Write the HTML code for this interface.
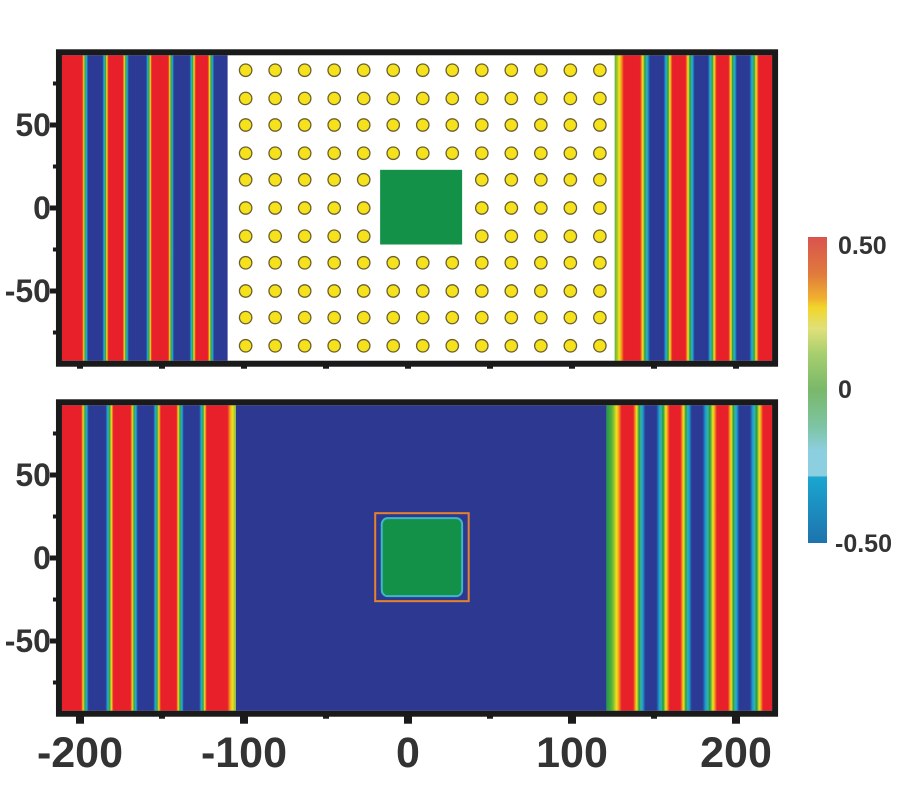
<!DOCTYPE html>
<html><head><meta charset="utf-8">
<style>
html,body{margin:0;padding:0;background:#fff;}
svg text{font-family:"Liberation Sans",Arial,sans-serif;font-weight:bold;fill:#333;}
</style></head>
<body>
<svg id="chart" width="900" height="800" viewBox="0 0 900 800" xmlns="http://www.w3.org/2000/svg">
<defs id="defs"></defs>
<g id="plot"></g>
</svg>
<script>
// ---- data (x/y in physical units) ----
const xTicks = [-200, -100, 0, 100, 200];
const xMinorTicks = [-150, -50, 50, 150];
const yTicks = [50, 0, -50];
const yMinorTicks = [75, 25, -25, -75];
const topLeftRed = [-204, -179, -151, -125];
const topLeftBlue = [-190, -165, -138, -115];
const topRightRed = [137, 165, 192, 218];
const topRightBlue = [152, 179, 204];
const botLeftRed = [-204, -174, -146, -118];
const botLeftBlue = [-190, -160, -132];
const botRightRed = [134, 163, 192, 220];
const botRightBlue = [148, 176, 205];
const dotXs = [-99, -81, -63, -45, -27, -9, 9, 27, 45, 63, 81, 99, 117];
const dotYs = [83, 66, 50, 33, 17, 0, -17, -33, -50, -66, -83];
const cbTicks = ["0.50", "0", "-0.50"];
const cbValues = [0.5, 0, -0.5];

// ---- axes ----
const X0 = 408, SX = 1.64;
const sx = v => X0 + v * SX;
const SY = 1.66;
const syTop = v => 208 - v * SY;
const syBot = v => 558 - v * SY;
const XMIN = -211, XMAX = 222, YMAX = 92;

const NS = "http://www.w3.org/2000/svg";
const plot = document.getElementById('plot');
const defs = document.getElementById('defs');
function mk(tag, attrs, parent) {
  const e = document.createElementNS(NS, tag);
  for (const k in attrs) e.setAttribute(k, attrs[k]);
  (parent || plot).appendChild(e);
  return e;
}
// colormap
const cmap = [[-1,[43,58,148]],[-0.6,[26,160,214]],[-0.25,[60,180,150]],[0,[23,154,74]],[0.45,[242,228,26]],[0.7,[243,150,30]],[1,[232,32,42]]];
function col(v) {
  v = Math.max(-1, Math.min(1, v));
  for (let i = 0; i < cmap.length - 1; i++) {
    const a = cmap[i], b = cmap[i + 1];
    if (v <= b[0]) {
      const t = (v - a[0]) / (b[0] - a[0]);
      const c = a[1].map((x, j) => Math.round(x + (b[1][j] - x) * t));
      return `rgb(${c[0]},${c[1]},${c[2]})`;
    }
  }
  return 'rgb(232,32,42)';
}
let gid = 0;
function stripeField(x0, x1, reds, blues, ymap, name, width, gain) {
  const id = 'g' + (gid++);
  const lg = mk('linearGradient', {id: id, x1: '0', x2: '1', y1: '0', y2: '0'}, defs);
  const N = 240;
  for (let i = 0; i <= N; i++) {
    const x = x0 + (x1 - x0) * i / N;
    let v = 0;
    reds.forEach(c => v += Math.exp(-Math.pow((x - c) / width, 2)));
    blues.forEach(c => v -= Math.exp(-Math.pow((x - c) / width, 2)));
    mk('stop', {offset: (i / N).toFixed(4), 'stop-color': col(v * gain)}, lg);
  }
  const r = mk('rect', {x: sx(x0), y: ymap(YMAX), width: sx(x1) - sx(x0), height: ymap(-YMAX) - ymap(YMAX), fill: `url(#${id})`});
  
  
}

function panel(ymap, tag) {
  const bg = mk('rect', {x: sx(XMIN), y: ymap(YMAX), width: sx(XMAX) - sx(XMIN), height: ymap(-YMAX) - ymap(YMAX), fill: '#fff'});
  
  
}

// ---- top panel ----
panel(syTop, 'top');
stripeField(XMIN, -110, topLeftRed, topLeftBlue, syTop, 'top-left-wave-field', 9, 3.2);
stripeField(126, XMAX, topRightRed, topRightBlue, syTop, 'top-right-wave-field', 7, 1.8);
dotXs.forEach(x => dotYs.forEach(y => {
  const d = mk('circle', {cx: sx(x), cy: syTop(y), r: 6.2, fill: '#f6e21c', stroke: '#6b6030', 'stroke-width': 1.3});
  
  
}));
const gsq = mk('rect', {x: sx(-17), y: syTop(23), width: sx(33) - sx(-17), height: syTop(-22) - syTop(23), fill: '#149148'});



// ---- bottom panel ----
panel(syBot, 'bottom');
const bb = mk('rect', {x: sx(-105), y: syBot(YMAX), width: sx(121) - sx(-105), height: syBot(-YMAX) - syBot(YMAX), fill: '#2d3891'});


stripeField(XMIN, -105, botLeftRed, botLeftBlue, syBot, 'bottom-left-wave-field', 8.5, 2.4);
stripeField(121, XMAX, botRightRed, botRightBlue, syBot, 'bottom-right-wave-field', 6.5, 1.4);
const ob = mk('rect', {x: sx(-20), y: syBot(27), width: sx(37) - sx(-20), height: syBot(-26) - syBot(27), fill: 'none', stroke: '#e6822e', 'stroke-width': 2});


const ig = mk('rect', {x: sx(-16), y: syBot(24), width: sx(33) - sx(-16), height: syBot(-23) - syBot(24), rx: 6, fill: '#149148', stroke: '#3fb6c8', 'stroke-width': 2});



// frames & ticks
[[syTop, 'top'], [syBot, 'bottom']].forEach(([ym, tag]) => {
  const f = mk('rect', {x: sx(XMIN) - 3, y: ym(YMAX) - 3, width: sx(XMAX) - sx(XMIN) + 6, height: ym(-YMAX) - ym(YMAX) + 6, fill: 'none', stroke: '#1a1a1a', 'stroke-width': 6});
  
  
  yTicks.forEach(v => {
    const t = mk('rect', {x: sx(XMIN) - 12, y: ym(v) - 2.5, width: 8, height: 5, fill: '#1a1a1a'});
    
    
    const l = mk('text', {x: sx(XMIN) - 11, y: ym(v) + 11, 'text-anchor': 'end', 'font-size': 32});
    l.textContent = v;
    
    
  });
  yMinorTicks.forEach(v => {
    const t = mk('rect', {x: sx(XMIN) - 9, y: ym(v) - 2, width: 4, height: 4, fill: '#1a1a1a'});
    
    
  });
  xTicks.concat(xMinorTicks).forEach(v => {
    const major = xTicks.includes(v) && tag === 'bottom';
    const t = mk('rect', {x: sx(v) - (major ? 4 : 3), y: ym(-YMAX) + 5, width: major ? 8 : 6, height: major ? 8 : 3, fill: '#1a1a1a'});
    
    
  });
});
xTicks.forEach(v => {
  const l = mk('text', {x: sx(v), y: 767, 'text-anchor': 'middle', 'font-size': 43});
  l.textContent = v;
  
  
});

// ---- colorbar ----
const CB_TOP = 237, CB_BOT = 543, CB_X = 808, CB_W = 19;
const cbY = v => CB_TOP + (0.5 - v) / 1.0 * (CB_BOT - CB_TOP);
const cbg = mk('linearGradient', {id: 'cbgrad', x1: '0', x2: '0', y1: '0', y2: '1'}, defs);
[[0, '#d9534f'], [0.12, '#e07a3c'], [0.2, '#f0b030'], [0.23, '#f2d52a'], [0.3, '#dfe07a'], [0.38, '#a8cf6e'], [0.5, '#79b86a'], [0.62, '#7ec4a4'], [0.7, '#8ccfe0'], [0.78, '#8ccfe0'], [0.785, '#1aa6cf'], [1, '#1e73ad']].forEach(s => mk('stop', {offset: s[0], 'stop-color': s[1]}, cbg));
const cb = mk('rect', {x: CB_X, y: CB_TOP, width: CB_W, height: CB_BOT - CB_TOP, fill: 'url(#cbgrad)'});


cbValues.forEach((v, i) => {
  const l = mk('text', {x: i === 2 ? 835 : 838, y: cbY(v) + (i === 0 ? 17 : i === 2 ? 9 : 8), 'font-size': 25});
  l.textContent = cbTicks[i];
  
  
});
</script>
</body></html>
